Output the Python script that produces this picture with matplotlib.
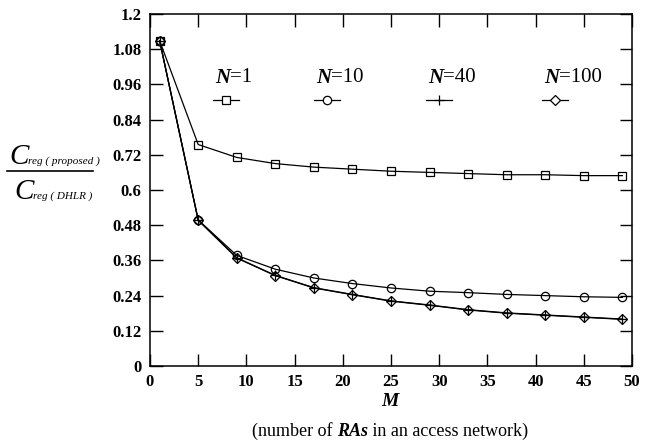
import matplotlib.pyplot as plt
from matplotlib.lines import Line2D

# data
m_values = [1, 5, 9, 13, 17, 21, 25, 29, 33, 37, 41, 45, 49]
n1 = [1.109, 0.755, 0.711, 0.690, 0.678, 0.671, 0.664, 0.660, 0.656, 0.652, 0.652, 0.649, 0.649]
n10 = [1.109, 0.498, 0.377, 0.330, 0.300, 0.281, 0.266, 0.255, 0.250, 0.244, 0.240, 0.236, 0.234]
n40 = [1.109, 0.497, 0.369, 0.309, 0.267, 0.244, 0.222, 0.208, 0.192, 0.181, 0.174, 0.167, 0.160]
n100 = [1.109, 0.497, 0.368, 0.308, 0.266, 0.243, 0.221, 0.207, 0.191, 0.180, 0.173, 0.166, 0.159]

series_labels = ["1", "10", "40", "100"]
series_markers = ["s", "o", "+", "D"]
x_ticks = [0, 5, 10, 15, 20, 25, 30, 35, 40, 45, 50]
y_ticks = [0, 0.12, 0.24, 0.36, 0.48, 0.6, 0.72, 0.84, 0.96, 1.08, 1.2]
y_tick_labels = ["0", "0.12", "0.24", "0.36", "0.48", "0.6", "0.72", "0.84", "0.96", "1.08", "1.2"]

SERIF = "Liberation Serif"
W, H = 645, 445

fig = plt.figure(figsize=(6.45, 4.45), dpi=100)
ax = fig.add_axes([150 / W, 79 / H, 482 / W, 352 / H])


def msize(mk):
    return 7 if mk == "+" else (5 if mk == "D" else 6)


for vals, mk in zip([n1, n10, n40, n100], series_markers):
    ax.plot(m_values, vals, color="black", lw=0.9, marker=mk, markersize=msize(mk),
            markerfacecolor="none", markeredgecolor="black", markeredgewidth=0.9)

ax.set_xlim(0, 50)
ax.set_ylim(0, 1.2)
ax.set_xticks(x_ticks)
ax.set_yticks(y_ticks)
ax.set_yticklabels(y_tick_labels)
ax.tick_params(direction="in", length=9, width=1, top=True, right=True,
               labelsize=12, pad=6)
for lbl in ax.get_xticklabels() + ax.get_yticklabels():
    lbl.set_fontfamily(SERIF)
    lbl.set_fontweight("bold")
for sp in ax.spines.values():
    sp.set_linewidth(1.1)

# in-plot legend: labels above short line samples
label_x = [230, 331, 443, 559]
for lx, lab, mk in zip(label_x, series_labels, series_markers):
    fx = lx / W
    fig.text(fx, 1 - 78 / H, "N", fontfamily=SERIF, fontweight="bold",
             fontstyle="italic", fontsize=15, ha="right", va="center")
    fig.text(fx, 1 - 78 / H, "=" + lab, fontfamily=SERIF, fontsize=15,
             ha="left", va="center")
    cx = (lx - 4) / W
    fig.add_artist(Line2D([cx - 13 / W, cx + 13 / W], [1 - 100 / H] * 2,
                          transform=fig.transFigure, color="black", lw=0.9))
    fig.add_artist(Line2D([cx], [1 - 100 / H], transform=fig.transFigure,
                          color="black", marker=mk, markersize=msize(mk),
                          markerfacecolor="white" if mk != "+" else "none",
                          markeredgecolor="black", markeredgewidth=0.9))

# y label drawn as a fraction
fig.text(9 / W, 1 - 157 / H, "C", fontfamily=SERIF, fontstyle="italic",
         fontsize=21, ha="left", va="center")
fig.text(28 / W, 1 - 161 / H, "reg ( proposed )", fontfamily=SERIF,
         fontstyle="italic", fontsize=8, ha="left", va="center")
fig.add_artist(Line2D([7 / W, 93 / W], [1 - 171 / H] * 2,
                      transform=fig.transFigure, color="black", lw=1.2))
fig.text(14 / W, 1 - 192 / H, "C", fontfamily=SERIF, fontstyle="italic",
         fontsize=21, ha="left", va="center")
fig.text(33 / W, 1 - 196 / H, "reg ( DHLR )", fontfamily=SERIF,
         fontstyle="italic", fontsize=8, ha="left", va="center")

# x label
fig.text(390 / W, 1 - 402 / H, "M", fontfamily=SERIF, fontweight="bold",
         fontstyle="italic", fontsize=14, ha="center", va="center")


def draw_pieces(pieces, x_center, y):
    fig.canvas.draw()
    renderer = fig.canvas.get_renderer()
    texts = []
    for s, bold in pieces:
        t = fig.text(0, y, s, fontfamily=SERIF, fontsize=13, va="center",
                     fontweight="bold" if bold else "normal",
                     fontstyle="italic" if bold else "normal")
        texts.append(t)
    widths = [t.get_window_extent(renderer).width / fig.bbox.width for t in texts]
    x = x_center - sum(widths) / 2
    for t, w in zip(texts, widths):
        t.set_x(x)
        x += w


draw_pieces([("(number of ", False), ("RAs", True), (" in an access network)", False)],
            390 / W, 1 - 431 / H)

fig.savefig("out.png", dpi=100)
